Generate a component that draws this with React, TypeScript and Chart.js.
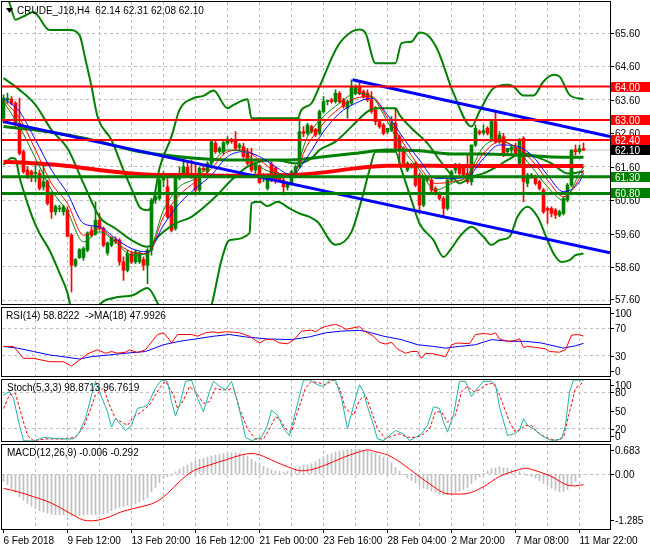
import React, { useEffect, useRef } from "react";
import { Chart, registerables } from "chart.js";

Chart.register(...registerables);

const FONT_FAMILY = "'Liberation Sans', Arial, sans-serif";
const FONT = `10px ${FONT_FAMILY}`;
const GREEN = "#008000";
const RED = "#ff0000";
const BLUE = "#0000ff";
const GRID = "#c0c0c0";
const STOCH_MAIN = "#20b2aa";

// ---------------- data ----------------
const symbolTitle = "CRUDE_J18,H4  62.14 62.31 62.08 62.10";
const rsiTitle = "RSI(14) 58.8222  ->MA(18) 47.9926";
const stochTitle = "Stoch(5,3,3) 98.8713 96.7619";
const macdTitle = "MACD(12,26,9) -0.006 -0.292";

const timeLabels = ["6 Feb 2018", "9 Feb 12:00", "13 Feb 20:00", "16 Feb 12:00", "21 Feb 00:00", "23 Feb 16:00", "28 Feb 04:00", "2 Mar 20:00", "7 Mar 08:00", "11 Mar 22:00"];
const timeLabelBars = [0, 16, 32, 48, 64, 80, 96, 112, 128, 144];
const gridBars = [8, 16, 24, 32, 40, 48, 56, 64, 72, 80, 88, 96, 104, 112, 120, 128, 136, 144];
const axisBars = [0, 8, 16, 24, 32, 40, 48, 56, 64, 72, 80, 88, 96, 104, 112, 120, 128, 136, 144];

const priceTicks = [57.6, 58.6, 59.6, 60.6, 61.6, 62.6, 63.6, 64.6, 65.6];
const levelRed = [64.0, 63.0, 62.4];
const levelGreen = [61.3, 60.8];
const bidPrice = 62.1;

const barOpen = [
  63.05, 63.6, 63.62, 63.5, 62.9, 62.05, 61.5, 61.45, 61.4, 61.4,
  61.0, 61.15, 60.8, 60.25, 60.33, 60.25, 60.3, 59.55, 58.65, 58.88,
  58.88, 59.1, 59.68, 59.58, 60.0, 59.75, 59.02, 59.25, 59.42, 59.4,
  58.75, 58.5, 59.0, 58.75, 58.75, 58.82, 58.65, 59.1, 60.6, 60.65,
  61.2, 61.0, 60.4, 59.75, 61.25, 61.35, 61.58, 61.4, 61.4, 60.9,
  61.55, 61.45, 61.7, 62.3, 62.05, 62.05, 62.3, 62.4, 62.4, 62.18,
  62.2, 62.0, 61.75, 61.5, 61.62, 61.3, 60.95, 61.68, 61.55, 61.3,
  61.2, 60.98, 61.1, 61.4, 61.6, 62.65, 62.6, 62.8, 62.72, 62.6,
  63.25, 63.55, 63.6, 63.55, 63.8, 63.6, 63.35, 63.5, 63.8, 64.0,
  63.85, 63.8, 63.6, 63.3, 62.95, 62.85, 62.65, 62.7, 62.9, 62.5,
  62.15, 61.5, 61.62, 61.7, 61.35, 60.45, 61.22, 61.2, 60.95, 60.8,
  60.65, 60.35, 61.2, 61.5, 61.65, 61.55, 61.4, 61.15, 62.25, 62.65,
  62.62, 62.75, 62.45, 62.95, 62.35, 62.5, 62.05, 62.1, 62.18, 61.7,
  62.45, 61.1, 61.3, 61.3, 61.15, 60.9, 60.35, 60.35, 60.3, 60.15,
  60.2, 60.6, 61.05, 62.1, 62.05, 62.14,
];
const barHigh = [
  63.75, 63.8, 63.7, 63.55, 63.65, 62.1, 61.6, 61.5, 61.7, 61.5,
  61.7, 61.2, 60.85, 60.45, 60.45, 60.45, 60.4, 59.6, 58.85, 59.15,
  59.2, 59.65, 59.8, 60.55, 60.2, 59.8, 59.35, 59.5, 59.5, 59.45,
  58.9, 59.1, 59.05, 59.1, 59.05, 58.9, 59.15, 60.65, 60.75, 61.4,
  61.45, 61.4, 60.45, 61.35, 61.6, 61.85, 61.75, 61.8, 61.7, 61.6,
  61.62, 61.75, 62.35, 62.4, 62.2, 62.4, 62.5, 62.45, 62.65, 62.3,
  62.3, 62.15, 62.15, 61.7, 61.65, 61.4, 61.4, 61.75, 61.6, 61.4,
  61.25, 61.15, 61.5, 61.65, 63.05, 62.8, 62.9, 62.85, 62.75, 63.3,
  63.7, 63.58, 63.65, 63.9, 63.85, 63.65, 63.6, 64.2, 64.05, 64.1,
  63.9, 63.9, 63.85, 63.4, 63.0, 62.9, 62.75, 63.1, 63.35, 62.55,
  62.2, 61.75, 61.7, 61.75, 61.4, 61.3, 61.3, 61.3, 61.0, 60.85,
  60.7, 61.25, 61.5, 61.7, 61.7, 61.6, 61.95, 62.25, 62.85, 62.7,
  62.85, 62.8, 63.0, 63.25, 62.65, 62.6, 62.15, 62.25, 62.3, 62.45,
  62.5, 61.4, 61.4, 61.35, 61.2, 60.95, 60.4, 60.4, 60.35, 60.3,
  60.7, 61.1, 62.1, 62.25, 62.25, 62.31,
];
const barLow = [
  62.9, 63.5, 63.45, 62.75, 61.95, 61.4, 61.25, 61.15, 61.15, 60.9,
  60.9, 60.45, 60.05, 60.15, 60.25, 60.15, 59.5, 57.85, 58.6, 58.85,
  58.8, 59.05, 59.5, 59.55, 59.7, 59.2, 58.95, 59.2, 59.3, 58.65,
  58.2, 58.45, 58.7, 58.7, 58.7, 58.5, 58.1, 58.95, 60.5, 60.6,
  61.0, 60.05, 59.65, 59.7, 61.2, 61.3, 61.3, 61.25, 60.75, 60.85,
  61.45, 61.4, 61.65, 62.0, 62.0, 61.95, 62.25, 62.3, 62.1, 62.1,
  61.85, 61.65, 61.45, 61.4, 61.1, 61.15, 60.9, 61.15, 61.1, 61.15,
  60.75, 60.9, 61.05, 61.35, 61.55, 62.5, 62.55, 62.6, 62.5, 62.55,
  63.2, 63.45, 63.5, 63.5, 63.5, 63.35, 63.05, 63.45, 63.75, 63.75,
  63.65, 63.55, 63.2, 62.85, 62.75, 62.55, 62.6, 62.65, 62.1, 61.6,
  61.65, 61.45, 61.55, 61.0, 60.2, 60.4, 61.15, 60.85, 60.75, 60.6,
  60.1, 60.3, 61.15, 61.4, 61.35, 61.3, 61.1, 61.05, 62.2, 62.55,
  62.55, 62.55, 62.4, 62.3, 62.3, 61.9, 61.95, 61.95, 61.95, 61.65,
  60.55, 61.0, 61.25, 61.05, 60.9, 60.2, 59.9, 60.1, 60.05, 60.1,
  60.15, 60.55, 61.0, 61.95, 62.0, 62.08,
];
const barClose = [
  63.65, 63.65, 63.5, 62.85, 62.0, 61.45, 61.35, 61.35, 61.42, 60.95,
  61.15, 60.5, 60.25, 60.4, 60.36, 60.4, 59.52, 58.65, 58.82, 59.12,
  59.15, 59.62, 59.55, 60.0, 59.75, 59.25, 59.32, 59.48, 59.35, 58.75,
  58.5, 59.0, 58.75, 59.05, 59.02, 58.65, 59.1, 60.6, 60.7, 61.2,
  61.4, 60.1, 59.7, 61.3, 61.4, 61.6, 61.35, 61.3, 60.9, 61.55,
  61.5, 61.7, 62.35, 62.05, 62.15, 62.32, 62.4, 62.35, 62.15, 62.25,
  61.9, 61.7, 61.5, 61.65, 61.12, 61.33, 61.35, 61.2, 61.2, 61.2,
  61.0, 61.1, 61.45, 61.6, 62.65, 62.6, 62.85, 62.65, 62.55, 63.25,
  63.55, 63.56, 63.55, 63.8, 63.55, 63.4, 63.55, 64.0, 64.0, 63.8,
  63.7, 63.6, 63.25, 62.95, 62.8, 62.6, 62.75, 62.9, 62.15, 62.1,
  61.7, 61.7, 61.65, 61.05, 60.45, 61.25, 61.25, 60.9, 60.8, 60.65,
  60.35, 61.2, 61.45, 61.55, 61.4, 61.35, 61.15, 62.25, 62.75, 62.6,
  62.68, 62.6, 62.95, 62.35, 62.55, 61.95, 62.15, 62.18, 62.0, 62.4,
  61.15, 61.35, 61.35, 61.1, 60.95, 60.25, 60.3, 60.2, 60.15, 60.25,
  60.65, 61.05, 62.1, 62.05, 62.14, 62.1,
];

// moving averages (sampled every 4 bars)
const maBars = [0, 4, 8, 12, 16, 20, 24, 28, 32, 36, 40, 44, 48, 52, 56, 60, 64, 68, 72, 76, 80, 84, 88, 92, 96, 100, 104, 108, 112, 116, 120, 124, 128, 132, 136, 140, 144, 145];
const maFast = [63.55, 62.8, 61.85, 60.9, 60.25, 59.35, 59.65, 59.35, 58.95, 59.0, 60.3, 61.0, 61.25, 61.7, 62.1, 62.05, 61.6, 61.4, 61.3, 62.5, 63.1, 63.5, 63.8, 63.7, 62.95, 62.1, 61.5, 60.9, 61.1, 61.35, 62.2, 62.4, 62.15, 61.6, 61.0, 60.6, 61.4, 61.6];
const maMid = [63.6, 63.05, 62.1, 61.1, 60.5, 59.55, 59.75, 59.35, 59.05, 59.0, 60.1, 60.75, 61.15, 61.55, 62.05, 62.1, 61.8, 61.45, 61.35, 62.25, 62.9, 63.35, 63.65, 63.7, 63.05, 62.3, 61.6, 61.1, 61.15, 61.3, 62.0, 62.35, 62.2, 61.8, 61.2, 60.7, 61.25, 61.5];
const maSlow = [63.65, 63.25, 62.4, 61.5, 60.8, 59.9, 59.8, 59.45, 59.15, 59.05, 59.85, 60.5, 60.95, 61.35, 61.9, 62.05, 61.9, 61.6, 61.35, 61.9, 62.65, 63.2, 63.5, 63.65, 63.15, 62.45, 61.8, 61.25, 61.25, 61.3, 61.85, 62.25, 62.22, 61.95, 61.35, 60.85, 61.15, 61.4];

const maLongBars = [0, 8, 16, 24, 32, 40, 48, 56, 64, 72, 80, 88, 96, 104, 112, 120, 128, 136, 145];
const ma100 = [62.8, 62.7, 62.55, 62.35, 62.1, 61.95, 61.85, 61.8, 61.8, 61.8, 61.9, 62.0, 62.1, 62.08, 61.98, 61.98, 61.95, 61.9, 61.88];
const ma200 = [61.75, 61.7, 61.62, 61.5, 61.4, 61.35, 61.35, 61.33, 61.33, 61.35, 61.43, 61.55, 61.63, 61.63, 61.62, 61.62, 61.62, 61.62, 61.62];

// bollinger bands
const bbMidBars = [0, 4, 8, 12, 16, 20, 24, 28, 32, 36, 39, 43, 47, 53, 57, 61, 64, 68, 73, 77, 79, 83, 87, 91, 93, 98, 99, 102, 106, 109, 112, 114, 117, 120, 124, 126, 130, 133, 137, 141, 145];
const bbMid = [64.25, 63.9, 63.45, 62.7, 62.15, 61.1, 60.1, 59.75, 59.4, 59.2, 59.55, 59.9, 60.1, 60.7, 61.2, 61.6, 61.75, 61.8, 61.7, 61.85, 62.1, 62.35, 62.8, 63.25, 63.35, 63.35, 63.15, 62.75, 62.3, 61.8, 61.35, 61.1, 61.3, 61.4, 61.65, 61.8, 62.0, 61.9, 61.7, 61.4, 61.45];
const bbUpBars = [0, 1.5, 3, 5, 7.5, 11.5, 16.5, 19, 20.5, 22, 23.5, 27, 30, 32.5, 34, 36, 37.5, 39, 42, 44, 47.5, 50, 52.5, 56, 57.5, 61, 62, 73.5, 74.5, 77, 79, 83.5, 87, 89, 90.5, 93, 98, 99.5, 102, 104, 106, 108.5, 112.5, 117, 119, 122.5, 126, 127.5, 130, 132.5, 135, 137.5, 139, 141.5, 145];
const bbUp = [66.9, 66.5, 66.0, 66.1, 66.23, 65.69, 65.69, 65.54, 64.8, 64.0, 63.1, 62.4, 61.5, 60.8, 60.4, 60.3, 60.6, 61.55, 62.5, 63.3, 63.65, 63.72, 63.88, 63.35, 63.45, 63.62, 63.05, 63.05, 63.3, 63.5, 64.0, 65.2, 65.64, 65.71, 65.6, 64.7, 64.7, 65.3, 65.34, 65.62, 65.54, 65.1, 63.8, 62.8, 63.25, 63.95, 64.05, 64.0, 63.73, 63.73, 64.15, 64.35, 64.3, 63.75, 63.62];
const bbLoBars = [0, 2, 3, 4, 5.5, 7.5, 9, 11.5, 14, 16, 17, 19, 22, 24, 27.5, 32.5, 36, 38.5, 40, 46, 50, 52, 54.5, 56.5, 61.5, 62, 64, 66, 68.5, 71.5, 74, 76.5, 78.5, 83, 87, 89.5, 91.5, 93, 98, 99.5, 102, 104, 107.5, 110, 112, 114, 117, 120, 122, 124, 126.5, 128.5, 131, 133.5, 136, 137.5, 139.5, 141.5, 143, 145];
const bbLo = [61.65, 61.86, 61.83, 61.29, 60.69, 60.0, 59.61, 59.1, 58.42, 57.82, 57.3, 56.8, 56.9, 57.46, 57.67, 57.76, 57.97, 57.52, 57.1, 56.6, 57.0, 57.46, 58.81, 59.4, 59.61, 60.51, 60.55, 60.42, 60.55, 60.35, 60.2, 60.1, 59.95, 59.26, 59.65, 60.6, 61.5, 62.05, 62.05, 61.5, 60.6, 59.9, 59.4, 58.9, 59.16, 59.5, 59.8, 59.5, 59.26, 59.4, 59.5, 60.1, 60.4, 60.1, 59.4, 59.0, 58.75, 58.8, 58.95, 59.0];

// trend lines (start bar / end bar at right edge)
const trendLongBars = [0, 151.6];
const trendLongVals = [62.95, 59.02];
const trendShortBars = [87.25, 151.6];
const trendShortVals = [64.2, 62.5];

// RSI
const rsiBars = [0, 2.5, 5, 7.5, 9.5, 11.5, 15, 17, 19, 21, 23.5, 25.5, 27, 28.5, 30.5, 31.5, 33.5, 35.5, 38.5, 40, 41.5, 42, 43.5, 47, 48.5, 50.5, 52.5, 53.5, 55.5, 57.5, 59, 61.5, 64, 65.5, 67.5, 69, 71, 72.5, 74.5, 77, 78, 79.5, 81, 83, 84.5, 85.5, 87.5, 89, 90, 91, 92.5, 94, 95.5, 97, 98.5, 100.5, 102, 103.5, 104.5, 105.5, 107.5, 110.5, 112, 113.5, 116.5, 118, 120, 122, 123, 124, 126, 128, 129, 130, 131, 133, 135.5, 136.5, 139, 140.5, 142, 143.5, 145];
const rsiVals = [43.5, 43.5, 26, 26, 23.5, 21, 21, 14.5, 23.5, 32.5, 38.5, 33.5, 36, 33.5, 35, 38.5, 34.5, 38.5, 61, 63.5, 53.5, 48.5, 61, 61, 58.5, 63.5, 65, 63.5, 65, 64.5, 63.5, 58.5, 48.5, 53.5, 53.5, 48.5, 47.5, 52.5, 66, 67.5, 65, 71, 73.5, 76, 72.5, 68.5, 71, 72.5, 67, 63.5, 58.5, 49.5, 47, 49.5, 39.5, 33.5, 36, 36, 26, 33.5, 32.5, 28.5, 46, 48.5, 47.5, 61, 62.5, 61, 63.5, 54.5, 51, 52, 55, 42, 43.5, 42, 40, 36, 35, 38.5, 60, 61, 58.82];
const rsiMaBars = [0, 3.5, 7.5, 11.5, 16, 19, 22, 26.5, 30.5, 35.5, 40, 44, 48, 52.5, 56.5, 60.5, 66, 72, 76.5, 80.5, 84.5, 89, 91, 95, 99.5, 103.5, 107.5, 110.5, 114, 118, 122, 126.5, 130.5, 134.5, 140, 143, 145];
const rsiMaVals = [43.5, 41, 36, 31, 27.5, 25, 28.5, 31, 33.5, 36, 46, 51, 54.5, 58.5, 61, 57.5, 54.5, 53.5, 57.5, 63.5, 66, 67, 65, 58.5, 53.5, 46, 43.5, 41, 43.5, 46, 53.5, 51, 51, 48.5, 41, 44.5, 47.99];

// Stochastic
const stochBars = [0, 1.5, 2.5, 4, 5, 7.5, 10, 12.5, 15, 17.5, 19, 20.5, 22, 23, 24, 26, 27, 28, 29.5, 30.5, 32, 33.5, 35, 36, 38, 39.5, 41, 42, 43, 44, 45.5, 47, 48.5, 50, 51.5, 52.5, 54, 55.5, 57, 58.5, 59.5, 60.5, 62, 64.5, 66, 67, 68.5, 70, 71.5, 73, 75, 76.5, 78.5, 80, 81.5, 83, 84.5, 86, 88, 89, 90, 91, 92.5, 93.5, 95, 96.5, 98, 100, 101.5, 103, 104.5, 106, 107.5, 109, 110, 111, 112.5, 114, 115.5, 117, 118.5, 120, 122, 123, 124, 126, 127.5, 129, 130, 131, 132.5, 134.5, 137, 139.5, 140.5, 141.5, 142.5, 144.5, 145];
const stochMain = [75.6, 81, 70, 25.6, 0.6, 0, 6, 4.5, 3.3, 3.3, 14.5, 36.7, 75.6, 97.8, 81, 47.8, 22.8, 36.7, 25.6, 17.2, 25.6, 53.4, 56.1, 58.9, 86.7, 100, 97.8, 64.5, 41.1, 58.9, 97.8, 100, 70, 47.8, 81, 97.8, 89.5, 84, 97.8, 64.5, 36.7, 6, 0.6, 6, 25.6, 50.6, 42.2, 20, 8.9, 47.8, 100, 100, 92.2, 89.5, 100, 100, 70, 20, 70, 92.2, 81, 56.1, 25.6, 3.3, 0.6, 8.9, 17.2, 11.7, 0.6, 6, 11.7, 25.6, 56.1, 53.4, 31.1, 14.5, 42.2, 97.8, 97.8, 72.8, 86.7, 97.8, 97.8, 92.2, 56.1, 8.9, 11.7, 17.2, 36.7, 25.6, 20, 8.9, 0.6, 3.3, 25.6, 81, 100, 100, 98.87];
const stochSigBars = [0, 1.5, 3, 4.5, 6, 7.5, 10.5, 15, 18, 20, 21.5, 23, 25, 26.5, 28, 29.5, 31, 32.5, 34.5, 36.5, 39, 40.5, 42.5, 43.5, 45, 46.5, 48, 50, 51.5, 53, 54.5, 56, 57.5, 59, 61, 63, 65, 66.5, 68, 69, 70.5, 72, 73.5, 75.5, 77, 79, 80.5, 82.5, 84, 85.5, 87.5, 89, 90.5, 92, 93.5, 95.5, 97.5, 99, 101, 103, 104.5, 106.5, 108, 109.5, 111, 113, 114.5, 116, 117.5, 119, 120.5, 122.5, 124, 126.5, 128, 129.5, 130.5, 132, 133.5, 135.5, 138, 140, 141.5, 143, 145];
const stochSig = [53.3, 75.6, 78.3, 42.2, 8.9, 0.6, 3.3, 3.3, 6.1, 22.8, 47.8, 75.6, 86.7, 58.9, 36.7, 31.1, 25.6, 39.5, 47.8, 58.9, 86.7, 97.8, 75.6, 53.3, 67.2, 89.5, 81.1, 61.7, 64.5, 86.7, 83.9, 83.9, 86.7, 53.3, 20, 3.3, 3.3, 20, 39.5, 36.7, 20, 14.5, 47.8, 86.7, 97.8, 95, 92.2, 100, 86.7, 53.3, 42.2, 67.2, 75.6, 47.8, 20, 3.3, 8.9, 11.7, 6.1, 6.1, 8.9, 20, 47.8, 47.8, 31.1, 42.2, 81.1, 89.5, 81.1, 83.9, 92.2, 95, 75.6, 31.1, 14.5, 20, 25.6, 25.6, 14.5, 6.1, 0.6, 6.1, 47.8, 86.7, 96.76];

// MACD
const macdHist = [
  -0.21, -0.3, -0.4, -0.51, -0.63, -0.73, -0.82, -0.9, -0.96, -1.02,
  -1.06, -1.09, -1.12, -1.13, -1.13, -1.13, -1.14, -1.17, -1.16, -1.15,
  -1.14, -1.12, -1.13, -1.12, -1.1, -1.11, -1.08, -1.02, -0.97, -0.93,
  -0.9, -0.87, -0.85, -0.82, -0.78, -0.73, -0.65, -0.5, -0.38, -0.24,
  -0.12, -0.08, -0.04, 0.06, 0.14, 0.2, 0.25, 0.31, 0.37, 0.41,
  0.44, 0.47, 0.5, 0.53, 0.55, 0.57, 0.58, 0.59, 0.59, 0.58,
  0.53, 0.48, 0.41, 0.34, 0.28, 0.21, 0.16, 0.12, 0.09, 0.07,
  0.06, 0.07, 0.11, 0.13, 0.2, 0.23, 0.25, 0.29, 0.34, 0.41,
  0.48, 0.53, 0.57, 0.61, 0.64, 0.66, 0.68, 0.69, 0.69, 0.68,
  0.66, 0.64, 0.6, 0.57, 0.52, 0.47, 0.39, 0.31, 0.18, 0.08,
  -0.02, -0.11, -0.18, -0.25, -0.34, -0.39, -0.42, -0.47, -0.51, -0.56,
  -0.58, -0.58, -0.56, -0.54, -0.48, -0.43, -0.38, -0.27, -0.17, -0.07,
  0.02, 0.09, 0.15, 0.17, 0.2, 0.17, 0.16, 0.12, 0.07, 0.06,
  0.02, -0.04, -0.07, -0.12, -0.19, -0.26, -0.33, -0.39, -0.45, -0.49,
  -0.49, -0.44, -0.32, -0.2, -0.09, -0.006,
];
const macdSigBars = [0, 3.5, 7.5, 12, 16, 20, 22, 25.5, 29.5, 32.5, 37, 39, 41, 44, 47, 51.5, 55.5, 59.5, 62, 64, 68, 72, 74.5, 76.5, 80.5, 84.5, 89, 91, 93, 96, 99.5, 103.5, 107.5, 110.5, 113, 116, 120, 124, 128.5, 130.5, 132.5, 137, 141, 143, 145];
const macdSig = [-0.4, -0.49, -0.63, -0.81, -1.05, -1.28, -1.3, -1.23, -1.05, -0.96, -0.83, -0.72, -0.54, -0.21, 0.06, 0.25, 0.39, 0.53, 0.57, 0.53, 0.34, 0.16, 0.09, 0.11, 0.25, 0.44, 0.62, 0.67, 0.62, 0.53, 0.3, -0.03, -0.35, -0.54, -0.56, -0.54, -0.35, -0.07, 0.11, 0.16, 0.11, -0.07, -0.31, -0.33, -0.292];

// ---------------- helpers ----------------
const X_MIN = -0.375;
const X_MAX = 151.625;

const pts = (xs: number[], ys: number[]) => xs.map((x, i) => ({ x, y: ys[i] }));

type AxisLabel = { value: number; text: string; bg?: string; fg?: string };

function panelPlugin(cfg: { labels: AxisLabel[]; title: string; titleX: number; titleY: number; icon?: boolean }) {
  return {
    id: "mtPanel",
    afterDraw(chart: any) {
      const { ctx, chartArea: a } = chart;
      const ys = chart.scales.y;
      ctx.save();
      ctx.strokeStyle = "#000";
      ctx.lineWidth = 1;
      ctx.strokeRect(a.left - 0.5, a.top - 0.5, a.right - a.left + 1, a.bottom - a.top + 1);
      ctx.font = FONT;
      ctx.textBaseline = "alphabetic";
      ctx.textAlign = "left";
      for (const l of cfg.labels) {
        let py = ys.getPixelForValue(l.value);
        py = Math.max(a.top + 5, Math.min(a.bottom - 5, py));
        const ry = Math.round(py);
        if (l.bg) {
          ctx.fillStyle = l.bg;
          ctx.fillRect(a.right + 1, ry - 5, chart.width - a.right - 1, 10);
          ctx.fillStyle = l.fg || "#fff";
        } else {
          ctx.fillStyle = "#000";
          ctx.fillRect(a.right + 1, ry, 3, 1);
        }
        ctx.fillText(l.text, a.right + 5, ry + 4);
      }
      if (cfg.icon) {
        ctx.fillStyle = "#000";
        ctx.beginPath();
        ctx.moveTo(6, 8);
        ctx.lineTo(13, 8);
        ctx.lineTo(9.5, 13);
        ctx.closePath();
        ctx.fill();
      }
      ctx.fillStyle = "#000";
      ctx.fillText(cfg.title, cfg.titleX, cfg.titleY);
      ctx.restore();
    },
  };
}

function hiddenX(): any {
  return {
    type: "linear",
    min: X_MIN,
    max: X_MAX,
    offset: false,
    afterBuildTicks: (s: any) => {
      s.ticks = gridBars.map((v) => ({ value: v }));
    },
    ticks: { display: false },
    grid: { color: GRID, drawTicks: false, offset: false },
    border: { display: false, dash: [3, 3] },
    afterFit: (s: any) => {
      s.height = 0;
    },
  };
}

function hiddenY(min: number, max: number, gridVals: number[]): any {
  return {
    type: "linear",
    position: "right",
    min,
    max,
    afterBuildTicks: (s: any) => {
      s.ticks = gridVals.map((v) => ({ value: v }));
    },
    ticks: { display: false },
    grid: { color: GRID, drawTicks: false },
    border: { display: false, dash: [3, 3] },
    afterFit: (s: any) => {
      s.width = 0;
    },
  };
}

const baseOptions = (padding: any, scales: any) => ({
  responsive: false,
  maintainAspectRatio: false,
  animation: false,
  events: [],
  layout: { padding },
  plugins: { legend: { display: false }, tooltip: { enabled: false } },
  scales,
});

const line = (xs: number[], ys: number[], color: string, width: number, order: number, extra: any = {}) => ({
  type: "line",
  data: pts(xs, ys),
  borderColor: color,
  borderWidth: width,
  pointRadius: 0,
  fill: false,
  order,
  ...extra,
});

const hline = (v: number, color: string, width: number, order: number) =>
  line([X_MIN, X_MAX], [v, v], color, width, order);

function mainConfig(): any {
  const colors = barClose.map((c, i) => (c >= barOpen[i] ? GREEN : RED));
  const smooth = { cubicInterpolationMode: "monotone" };
  const labels: AxisLabel[] = [
    ...priceTicks.map((v) => ({ value: v, text: v.toFixed(2) })),
    ...levelRed.map((v) => ({ value: v, text: v.toFixed(2), bg: RED, fg: "#fff" })),
    ...levelGreen.map((v) => ({ value: v, text: v.toFixed(2), bg: GREEN, fg: "#fff" })),
    { value: bidPrice, text: bidPrice.toFixed(2), bg: "#000", fg: "#fff" },
  ];
  return {
    type: "bar",
    data: {
      datasets: [
        ...levelRed.map((v) => hline(v, RED, 2, 0)),
        ...levelGreen.map((v) => hline(v, GREEN, 3, 0)),
        line(trendLongBars, trendLongVals, BLUE, 3, 0),
        line(trendShortBars, trendShortVals, BLUE, 3, 0),
        line(maBars, maFast, GREEN, 1, 1, smooth),
        line(maBars, maMid, RED, 1, 1, smooth),
        line(maBars, maSlow, BLUE, 1, 1, smooth),
        line(maLongBars, ma100, GREEN, 3, 2, smooth),
        line(maLongBars, ma200, RED, 4, 2, smooth),
        line(bbMidBars, bbMid, GREEN, 2, 2, smooth),
        line(bbUpBars, bbUp, GREEN, 2, 2, smooth),
        line(bbLoBars, bbLo, GREEN, 2, 2, smooth),
        {
          type: "bar",
          data: barOpen.map((o, i) => ({ x: i, y: [o, barClose[i]] })),
          backgroundColor: colors,
          borderWidth: 0,
          barThickness: 3,
          grouped: false,
          minBarLength: 1,
          order: 3,
        },
        {
          type: "bar",
          data: barLow.map((l, i) => ({ x: i, y: [l, barHigh[i]] })),
          backgroundColor: colors,
          borderWidth: 0,
          barThickness: 1,
          grouped: false,
          order: 4,
        },
        hline(bidPrice, GRID, 1, 5),
      ],
    },
    options: baseOptions(
      { left: 2, right: 40, top: 2, bottom: 2 },
      { x: hiddenX(), y: hiddenY(57.49, 66.53, priceTicks) }
    ),
    plugins: [panelPlugin({ labels, title: symbolTitle, titleX: 17, titleY: 14, icon: true })],
  };
}

function rsiConfig(): any {
  return {
    type: "line",
    data: {
      datasets: [
        line(rsiMaBars, rsiMaVals, BLUE, 1, 1),
        line(rsiBars, rsiVals, RED, 1, 0),
      ],
    },
    options: baseOptions({ left: 2, right: 40, top: 2, bottom: 2 }, { x: hiddenX(), y: hiddenY(0, 100, [30, 70]) }),
    plugins: [
      panelPlugin({
        labels: [
          { value: 100, text: "100" },
          { value: 70, text: "70" },
          { value: 30, text: "30" },
          { value: 0, text: "0" },
        ],
        title: rsiTitle,
        titleX: 6,
        titleY: 13,
      }),
    ],
  };
}

function stochConfig(): any {
  return {
    type: "line",
    data: {
      datasets: [
        line(stochSigBars, stochSig, RED, 1, 1, { borderDash: [3, 2] }),
        line(stochBars, stochMain, STOCH_MAIN, 1, 0),
      ],
    },
    options: baseOptions({ left: 2, right: 40, top: 2, bottom: 2 }, { x: hiddenX(), y: hiddenY(0, 100, [20, 80]) }),
    plugins: [
      panelPlugin({
        labels: [
          { value: 100, text: "100" },
          { value: 80, text: "80" },
          { value: 50, text: "50" },
          { value: 20, text: "20" },
          { value: 0, text: "0" },
        ],
        title: stochTitle,
        titleX: 7,
        titleY: 13,
      }),
    ],
  };
}

function macdConfig(): any {
  const x = {
    type: "linear",
    min: X_MIN,
    max: X_MAX,
    offset: false,
    afterBuildTicks: (s: any) => {
      s.ticks = axisBars.map((v) => ({ value: v }));
    },
    ticks: {
      display: true,
      autoSkip: false,
      maxRotation: 0,
      minRotation: 0,
      align: "start",
      padding: 2,
      color: "#000",
      font: { size: 10, family: FONT_FAMILY },
      callback: (v: any) => {
        const k = timeLabelBars.indexOf(Number(v));
        return k >= 0 ? timeLabels[k] : "";
      },
    },
    grid: {
      offset: false,
      color: (c: any) => (c.tick && c.tick.value === 0 ? "rgba(0,0,0,0)" : GRID),
      drawTicks: true,
      tickLength: 4,
      tickWidth: 1,
      tickBorderDash: [],
      tickColor: (c: any) => (c.tick && timeLabelBars.includes(c.tick.value) ? "#000" : "rgba(0,0,0,0)"),
    },
    border: { display: false, dash: [3, 3] },
    afterFit: (s: any) => {
      s.height = 21;
    },
  };
  return {
    type: "bar",
    data: {
      datasets: [
        line(macdSigBars, macdSig, RED, 1, 0, { cubicInterpolationMode: "monotone" }),
        {
          type: "bar",
          data: macdHist.map((v, i) => ({ x: i, y: v })),
          backgroundColor: "#c0c0c0",
          borderWidth: 0,
          barThickness: 1,
          grouped: false,
          order: 1,
        },
      ],
    },
    options: baseOptions({ left: 2, right: 40, top: 2, bottom: 0 }, { x, y: hiddenY(-1.528, 0.806, [0]) }),
    plugins: [
      panelPlugin({
        labels: [
          { value: 0.683, text: "0.683" },
          { value: 0, text: "0.00" },
          { value: -1.285, text: "-1.285" },
        ],
        title: macdTitle,
        titleX: 7,
        titleY: 13,
      }),
    ],
  };
}

export default function App() {
  const mainRef = useRef<HTMLCanvasElement>(null);
  const rsiRef = useRef<HTMLCanvasElement>(null);
  const stochRef = useRef<HTMLCanvasElement>(null);
  const macdRef = useRef<HTMLCanvasElement>(null);

  useEffect(() => {
    Chart.defaults.font.family = FONT_FAMILY;
    Chart.defaults.font.size = 10;
    Chart.defaults.color = "#000";
    const charts: any[] = [];
    if (mainRef.current) charts.push(new Chart(mainRef.current, mainConfig()));
    if (rsiRef.current) charts.push(new Chart(rsiRef.current, rsiConfig()));
    if (stochRef.current) charts.push(new Chart(stochRef.current, stochConfig()));
    if (macdRef.current) charts.push(new Chart(macdRef.current, macdConfig()));
    return () => charts.forEach((c) => c.destroy());
  }, []);

  const cv = (top: number, height: number): React.CSSProperties => ({
    position: "absolute",
    left: 0,
    top,
    width: 650,
    height,
  });

  return (
    <div style={{ position: "fixed", left: 0, top: 0, width: 650, height: 550, background: "#fff", overflow: "hidden" }}>
      <canvas ref={mainRef} width={650} height={306} style={cv(0, 306)} />
      <canvas ref={rsiRef} width={650} height={72} style={cv(306, 72)} />
      <canvas ref={stochRef} width={650} height={65} style={cv(378, 65)} />
      <canvas ref={macdRef} width={650} height={107} style={cv(443, 107)} />
    </div>
  );
}
